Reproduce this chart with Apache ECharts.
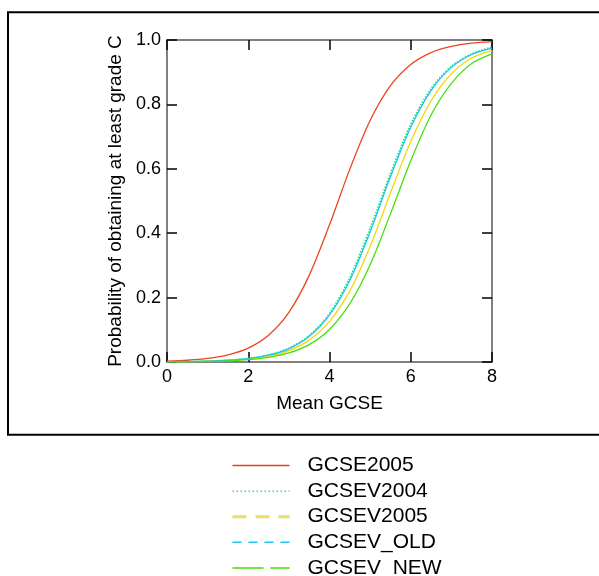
<!DOCTYPE html>
<html>
<head>
<meta charset="utf-8">
<script src="https://cdn.jsdelivr.net/npm/echarts@6/dist/echarts.min.js"></script>
<style>html,body{margin:0;padding:0;background:#fff;}#c{width:599px;height:576px;}</style>
</head>
<body>
<div id="c"></div>
<script>
const meanGCSE = [0,0.5,1,1.5,2,2.5,3,3.5,4,4.5,5,5.5,6,6.5,7,7.5,8];
const gcse2005  = [0.0027,0.0055,0.011,0.022,0.043,0.083,0.154,0.269,0.426,0.599,0.750,0.858,0.924,0.961,0.980,0.990,0.995];
const gcsev2004 = [0.0007,0.0014,0.0028,0.0056,0.0112,0.022,0.043,0.082,0.151,0.262,0.415,0.585,0.738,0.849,0.918,0.957,0.978];
const gcsev2005 = [0.0006,0.0012,0.0024,0.0048,0.0094,0.0183,0.0356,0.068,0.126,0.221,0.359,0.525,0.685,0.811,0.895,0.944,0.968];
const gcsevOld  = [0.0007,0.0014,0.0027,0.0054,0.0107,0.021,0.041,0.079,0.146,0.254,0.404,0.575,0.729,0.843,0.915,0.955,0.975];
const gcsevNew  = [0.0005,0.0010,0.0020,0.0038,0.0075,0.0146,0.028,0.054,0.101,0.181,0.302,0.460,0.625,0.767,0.865,0.927,0.957];
const xTicks = [0,2,4,6,8];
const yTicks = [0.0,0.2,0.4,0.6,0.8,1.0];

const pairs = v => meanGCSE.map((x,i)=>[x,v[i]]);
const chart = echarts.init(document.getElementById('c'), null, {renderer:'canvas'});
const font = '"Liberation Sans", Arial, sans-serif';
const axisLineStyle = {color:'#808080', width:2};
const tickStyle = {color:'#000', width:1.5};
function mkSeries(name, data, color, type, width){
  return {name, type:'line', data:pairs(data), smooth:0.3, symbol:'none', showSymbol:false,
    xAxisIndex:0, yAxisIndex:0,
    lineStyle:{color, width:width||1.3, type:type||'solid'}, itemStyle:{color}, z:3};
}
chart.setOption({
  backgroundColor:'#fff',
  animation:false,
  grid:{left:167, right:107, top:40, bottom:214, containLabel:false},
  xAxis:[
    {type:'value', min:0, max:8, interval:2, position:'bottom',
     name:'Mean GCSE', nameLocation:'middle', nameGap:32,
     nameTextStyle:{fontFamily:font, fontSize:19, color:'#000'},
     axisLine:{show:true, onZero:false, lineStyle:axisLineStyle},
     axisTick:{show:true, inside:true, length:10, lineStyle:tickStyle},
     axisLabel:{fontFamily:font, fontSize:18, color:'#000', margin:6,
       customValues:xTicks, formatter:v=>String(v)},
     splitLine:{show:false}},
    {type:'value', min:0, max:8, interval:2, position:'top',
     axisLine:{show:true, onZero:false, lineStyle:axisLineStyle},
     axisTick:{show:true, inside:true, length:10, lineStyle:tickStyle},
     axisLabel:{show:false}, splitLine:{show:false}}
  ],
  yAxis:[
    {type:'value', min:0, max:1, interval:0.2, position:'left',
     name:'Probability of obtaining at least grade C', nameLocation:'middle', nameGap:41,
     nameTextStyle:{fontFamily:font, fontSize:19, color:'#000'},
     axisLine:{show:true, onZero:false, lineStyle:axisLineStyle},
     axisTick:{show:true, inside:true, length:10, lineStyle:tickStyle},
     axisLabel:{fontFamily:font, fontSize:18, color:'#000', margin:6,
       customValues:yTicks, formatter:v=>v.toFixed(1)},
     splitLine:{show:false}},
    {type:'value', min:0, max:1, interval:0.2, position:'right',
     axisLine:{show:true, onZero:false, lineStyle:axisLineStyle},
     axisTick:{show:true, inside:true, length:10, lineStyle:tickStyle},
     axisLabel:{show:false}, splitLine:{show:false}}
  ],
  legend:{
    orient:'vertical', left:231, top:455, height:160, padding:0,
    itemWidth:57, itemHeight:10, itemGap:4.6,
    itemStyle:{opacity:0},
    textStyle:{fontFamily:font, fontSize:21, color:'#000', lineHeight:21, padding:[0,0,0,13]},
    data:[
      {name:'GCSE2005', lineStyle:{color:'#e8401c', width:1.5, type:'solid'}},
      {name:'GCSEV2004', lineStyle:{color:'#19d97a', width:1.2, type:[1.5,2.5]}},
      {name:'GCSEV2005', lineStyle:{color:'#eae060', width:3, type:[14,9]}},
      {name:'GCSEV_OLD', lineStyle:{color:'#20c8f0', width:1.5, type:[9,7]}},
      {name:'GCSEV_NEW', lineStyle:{color:'#40e000', width:1.5, type:[31,7]}}
    ]
  },
  graphic:[
    {type:'rect', shape:{x:8, y:12.3, width:620, height:422.5}, style:{fill:'none', stroke:'#000', lineWidth:2}, silent:true, z:0}
  ],
  series:[
    mkSeries('GCSE2005', gcse2005, '#ec4420'),
    mkSeries('GCSEV2004', gcsev2004, '#10e070', [1.5,1.5], 1.6),
    mkSeries('GCSEV2005', gcsev2005, '#f2d810'),
    mkSeries('GCSEV_OLD', gcsevOld, '#20c4f0'),
    mkSeries('GCSEV_NEW', gcsevNew, '#48e010')
  ]
});
</script>
</body>
</html>
